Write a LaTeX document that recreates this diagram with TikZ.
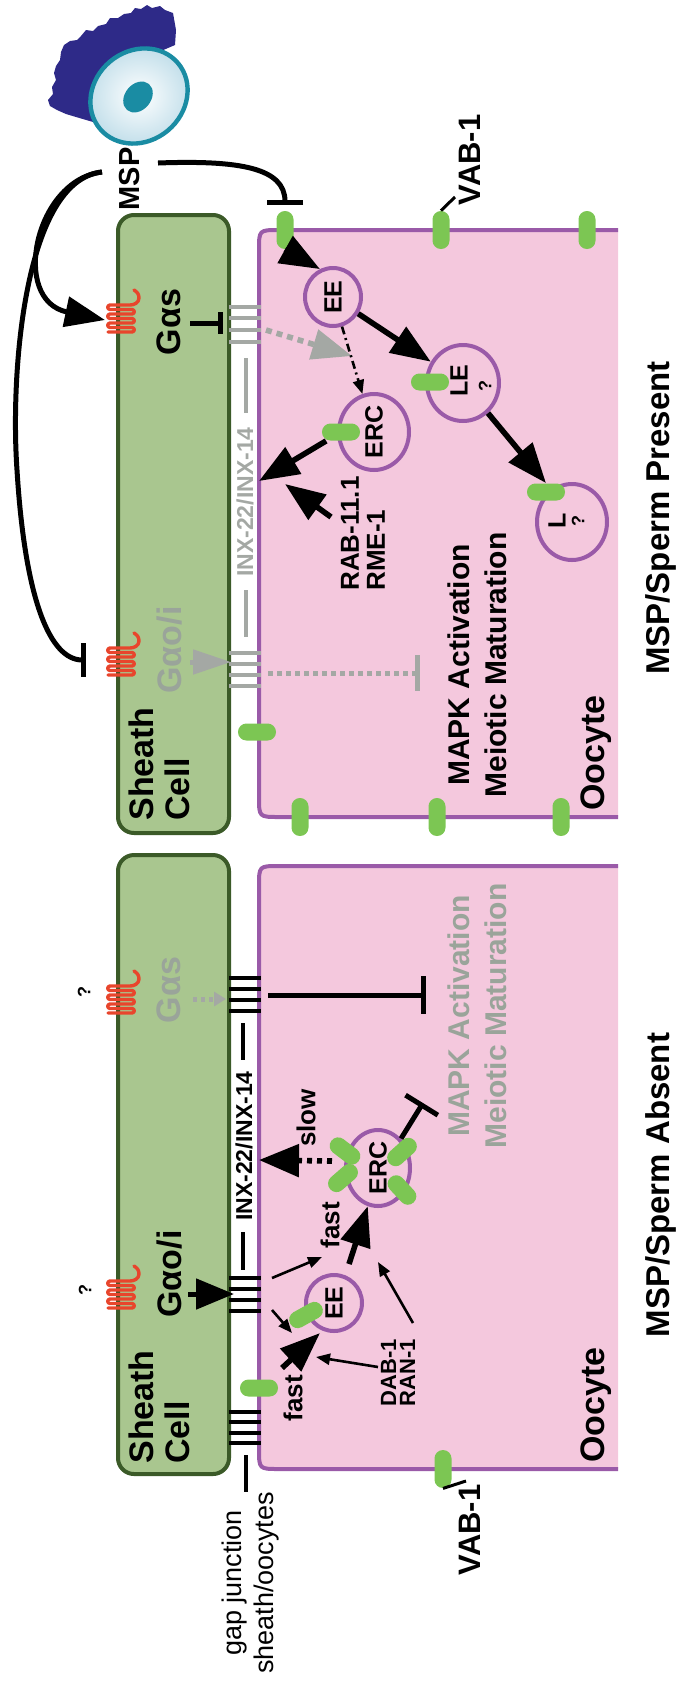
\documentclass[tikz,border=0pt]{standalone}
\usepackage{fontspec}
\setmainfont{Liberation Sans}
\usetikzlibrary{arrows.meta,shapes.geometric}

\definecolor{oopink}{HTML}{F4C8DD}
\definecolor{oopurple}{HTML}{9A5AA8}
\definecolor{shfill}{HTML}{A9C68F}
\definecolor{shedge}{HTML}{3B5A28}
\definecolor{capgreen}{HTML}{7CC653}
\definecolor{offgrey}{HTML}{A4A8A4}
\definecolor{txtgrey}{HTML}{9AA49A}
\definecolor{recred}{HTML}{E8452C}
\definecolor{spblue}{HTML}{2E2A88}
\definecolor{spteal}{HTML}{1A8CA3}
\definecolor{splight}{HTML}{BFDDE9}

\newcommand{\fsz}[2]{\fontsize{#1}{#2}\selectfont}

\tikzset{
  lbl/.style={rotate=90, inner sep=0pt, font=\bfseries},
  sheathbox/.style={fill=shfill, draw=shedge, line width=2pt, rounded corners=8pt},
  capsule/.style={fill=capgreen, rounded corners=4.2pt, minimum width=19pt, minimum height=8.5pt, inner sep=0pt},
  vcapsule/.style={capsule, minimum width=8.5pt, minimum height=19pt},
  vesicle/.style={ellipse, draw=oopurple, line width=2pt, fill=oopink, inner sep=0pt},
  bigarrow/.style={line width=2.8pt, -{Triangle[length=20pt,width=15pt]}},
  midarrow/.style={line width=2.5pt, -{Triangle[length=19pt,width=15pt]}},
  thinarrow/.style={line width=1.3pt, -{Triangle[length=7pt,width=5.5pt]}},
  blocker/.style={line width=2.5pt, -{Bar[width=#1]}},
  junction/.style={line width=2.2pt},
  oomembrane/.style={draw=oopurple, line width=2pt},
  receptor/.pic={
    \draw[recred, line width=1.7pt, line join=round, line cap=round]
      (-13,14) -- (11,14) to[out=0,in=0,looseness=1.7] (11,9.5)
      -- (-11,9.5) to[out=180,in=180,looseness=1.7] (-11,5)
      -- (11,5) to[out=0,in=0,looseness=1.7] (11,0.5)
      -- (-11,0.5) to[out=180,in=180,looseness=1.7] (-11,-4)
      -- (11,-4) to[out=0,in=0,looseness=1.7] (11,-8.5)
      -- (-11,-8.5) to[out=180,in=180,looseness=1.7] (-11,-13)
      -- (9,-13) to[out=0,in=-90] (18,-20) to[out=90,in=-30] (13,-28);
  }
}

\begin{document}
\begin{tikzpicture}[x=0.5pt,y=-0.5pt]
\useasboundingbox (0,0) rectangle (682,1688);

% ---------------- sperm ----------------
\fill[spblue] (173,13) -- (165,10) -- (160,6) -- (152,8) -- (147,5) -- (141,9) -- (135,8)
  -- (131,13) -- (124,14) -- (118,18) -- (110,18) -- (106,24) -- (98,26) -- (93,31)
  -- (86,30) -- (81,36) -- (77,40) -- (70,41) -- (64,45) -- (61,52) -- (60,60) -- (56,66)
  -- (54,73) -- (56,80) -- (52,87) -- (53,94) -- (48,100) -- (50,106) -- (57,110)
  -- (66,114) -- (76,117) -- (93,122) -- (110,120) -- (140,60) -- (175,45) -- (176,30) -- cycle;
\shade[inner color=white, outer color=splight, rotate around={40:(139,96)}]
  (139,96) ellipse [x radius=51, y radius=45];
\draw[spteal, line width=2.2pt, rotate around={40:(139,96)}]
  (139,96) ellipse [x radius=51, y radius=45];
\fill[spteal, rotate around={50:(138,97)}] (138,97) ellipse [x radius=17, y radius=13];

% ---------------- oocytes ----------------
\fill[oopink] (618,230) -- (279,230) .. controls (259,230) .. (259,250) -- (259,797)
  .. controls (259,817) .. (279,817) -- (618,817) -- cycle;
\draw[oomembrane] (618,230) -- (279,230) .. controls (259,230) .. (259,250) -- (259,797)
  .. controls (259,817) .. (279,817) -- (618,817);
\fill[oopink] (618,866) -- (279,866) .. controls (259,866) .. (259,886) -- (259,1449)
  .. controls (259,1469) .. (279,1469) -- (618,1469) -- cycle;
\draw[oomembrane] (618,866) -- (279,866) .. controls (259,866) .. (259,886) -- (259,1449)
  .. controls (259,1469) .. (279,1469) -- (618,1469);

% ---------------- sheath cells ----------------
\draw[sheathbox] (118,215) rectangle (229,833);
\draw[sheathbox] (118,855) rectangle (229,1474);

% ---------------- receptors on the sheath ----------------
\pic at (121,318) {receptor};
\pic at (121,661) {receptor};
\pic at (121,999) {receptor};
\pic at (121,1294) {receptor};

% ---------------- gap junctions ----------------
\foreach \yy in {307,318,330,342} \draw[junction, offgrey] (229,\yy) -- (261,\yy);
\foreach \yy in {653,664,675,686} \draw[junction, offgrey] (229,\yy) -- (261,\yy);
\foreach \yy in {978,989,1000,1011} \draw[junction] (229,\yy) -- (261,\yy);
\foreach \yy in {1278,1289,1300,1311} \draw[junction] (229,\yy) -- (261,\yy);
\foreach \yy in {1412,1422,1433,1443} \draw[junction] (229,\yy) -- (261,\yy);

% ---------------- vesicles ----------------
\node[vesicle, minimum width=28pt, minimum height=29pt] (ee1) at (333,297) {};
\node[vesicle, minimum width=35pt, minimum height=38pt] (erc1) at (374,432) {};
\node[vesicle, minimum width=36pt, minimum height=38pt] (le1) at (463,383) {};
\node[vesicle, minimum width=35pt, minimum height=38pt] (l1) at (572,522) {};
\node[vesicle, minimum width=28pt, minimum height=28pt] (ee2) at (334,1303) {};
\node[vesicle, minimum width=32pt, minimum height=38pt] (erc2) at (378,1168) {};

% ---------------- VAB-1 and cargo capsules ----------------
\node[vcapsule] (vt1) at (285,230) {};
\node[vcapsule] (vt2) at (441,230) {};
\node[vcapsule] (vt3) at (587,230) {};
\node[vcapsule] (vb1) at (300,817) {};
\node[vcapsule] (vb2) at (437,817) {};
\node[vcapsule] (vb3) at (561,817) {};
\node[vcapsule] (vb4) at (443,1469) {};
\node[capsule] (cb1) at (257,732) {};
\node[capsule] (cb2) at (259,1388) {};
\node[capsule] (ce1) at (341,432) {};
\node[capsule] (cl1) at (430,382) {};
\node[capsule] (cL) at (546,492) {};
\node[capsule, minimum width=18pt, rotate=29] (cee) at (306,1315) {};
\node[capsule, minimum width=17pt, rotate=-37] (cx1) at (345,1151) {};
\node[capsule, minimum width=17pt, rotate=41] (cx2) at (343,1178) {};
\node[capsule, minimum width=17pt, rotate=42] (cx3) at (402,1152) {};
\node[capsule, minimum width=17pt, rotate=-47] (cx4) at (402,1190) {};

% ---------------- text labels ----------------
\node[lbl, font=\bfseries\fsz{14.5}{15}] (msp) at (130,179) {MSP};
\node[lbl, font=\bfseries\fsz{15.5}{16}] (vab1) at (470,160) {VAB-1};
\node[lbl, font=\bfseries\fsz{15.5}{16}] (vab2) at (470,1530) {VAB-1};
\node[lbl, font=\bfseries\fsz{17}{18}, align=left, anchor=west] (sh1) at (159,821) {Sheath\\Cell};
\node[lbl, font=\bfseries\fsz{17}{18}, align=left, anchor=west] (sh2) at (159,1464) {Sheath\\Cell};
\node[lbl, font=\bfseries\fsz{17}{18}] (gas1) at (169,322) {Gαs};
\node[lbl, font=\bfseries\fsz{17}{18}, text=txtgrey] (gao1) at (170,650) {Gαo/i};
\node[lbl, font=\bfseries\fsz{17}{18}, text=txtgrey] (gas2) at (169,990) {Gαs};
\node[lbl, font=\bfseries\fsz{17}{18}] (gao2) at (170,1274) {Gαo/i};
\node[lbl, font=\bfseries\fsz{9}{9}] (q1) at (84,992) {?};
\node[lbl, font=\bfseries\fsz{9}{9}] (q2) at (85,1290) {?};
\node[lbl, font=\bfseries\fsz{11.5}{12}, text=offgrey] (inx1) at (245,502) {INX-22/INX-14};
\node[lbl, font=\bfseries\fsz{11.5}{12}] (inx2) at (244,1146) {INX-22/INX-14};
\node[lbl, font=\bfseries\fsz{12.5}{13}] at (ee1) {EE};
\node[lbl, font=\bfseries\fsz{12.5}{13}] at (erc1) {ERC};
\node[lbl, font=\bfseries\fsz{12.5}{13}] (letxt) at (459,381) {LE};
\node[lbl, font=\bfseries\fsz{9}{9}] (leq) at (485,386) {?};
\node[lbl, font=\bfseries\fsz{12.5}{13}] (ltxt) at (557,521) {L};
\node[lbl, font=\bfseries\fsz{9}{9}] (lq) at (578,521) {?};
\node[lbl, font=\bfseries\fsz{12.5}{13}] at (ee2) {EE};
\node[lbl, font=\bfseries\fsz{12.5}{13}] at (erc2) {ERC};
\node[lbl, font=\bfseries\fsz{13}{13}, align=left, anchor=west] (rab) at (363,591) {RAB-11.1\\RME-1};
\node[lbl, font=\bfseries\fsz{15}{18.5}, align=center] (mapk1) at (477,665) {MAPK Activation\\Meiotic Maturation};
\node[lbl, font=\bfseries\fsz{15}{18.5}, align=center, text=txtgrey] (mapk2) at (477,1016) {MAPK Activation\\Meiotic Maturation};
\node[lbl, font=\bfseries\fsz{17}{18}, anchor=west] (ooc1) at (596,811) {Oocyte};
\node[lbl, font=\bfseries\fsz{17}{18}, anchor=west] (ooc2) at (596,1463) {Oocyte};
\node[lbl, font=\bfseries\fsz{16.5}{17}] (title1) at (661,518) {MSP/Sperm Present};
\node[lbl, font=\bfseries\fsz{16.5}{17}] (title2) at (661,1185) {MSP/Sperm Absent};
\node[lbl, font=\bfseries\fsz{13}{13}] (slow) at (306,1118) {slow};
\node[lbl, font=\bfseries\fsz{13}{13}] (fast1) at (330,1225) {fast};
\node[lbl, font=\bfseries\fsz{13}{13}] (fast2) at (293,1398) {fast};
\node[lbl, font=\bfseries\fsz{11}{9.5}, align=left, anchor=west] (dab) at (398,1407) {DAB-1\\RAN-1};
\node[lbl, font=\fsz{13.5}{16}, align=center] (gjlbl) at (251,1583) {gap junction\\sheath/oocytes};

% ---------------- named end points ----------------
\coordinate (mspL) at (102,172);
\coordinate (mspR) at (158,163);
\coordinate (rec1) at (105,320);
\coordinate (rec2) at (86,660);
\coordinate (vt1bar) at (285,205);
\coordinate (gj1out) at (266,330);
\coordinate (gj1in) at (223,323);
\coordinate (gasT) at (190,323);
\coordinate (greytip) at (352,356);
\coordinate (rabtip) at (259,481);
\coordinate (rabfrom) at (331,517);
\coordinate (rabhit) at (285,484);
\coordinate (gaoG) at (190,662);
\coordinate (gj2in) at (231,662);
\coordinate (gj2out) at (268,673);
\coordinate (mapkbar1) at (420,673);
\coordinate (gasG) at (193,999);
\coordinate (gj3in) at (226,999);
\coordinate (gj3out) at (268,995);
\coordinate (mapkbar2) at (426,995);
\coordinate (gaoB) at (188,1294);
\coordinate (gj4in) at (234,1294);
\coordinate (gj4out) at (272,1278);
\coordinate (gj4low) at (272,1310);
\coordinate (fastmid) at (322,1257);
\coordinate (eetouch) at (292,1333);
\coordinate (fastlowfrom) at (282,1368);
\coordinate (fastlowtip) at (320,1333);
\coordinate (fastupfrom) at (349,1264);
\coordinate (slowfrom) at (332,1161);
\coordinate (slowtip) at (259,1160);
\coordinate (ercbar) at (423,1103);
\coordinate (dabup) at (413,1323);
\coordinate (dabuptip) at (378,1262);
\coordinate (dablow) at (378,1367);
\coordinate (dablowtip) at (316,1357);
\coordinate (vabtick1) at (455,197);
\coordinate (vabtick2) at (466,1481);
\coordinate (gjlinetop) at (246,1455);
\coordinate (gjlinebot) at (246,1492);

% ---------------- MSP signalling ----------------
\draw[line width=2.5pt, -{Triangle[length=20pt,width=15pt]}]
  (mspL) .. controls (35,180) and (10,300) .. (rec1);
\draw[blocker=17pt] (mspL) .. controls (25,180) and (10,370) .. (17,470)
  .. controls (25,600) and (50,660) .. (rec2);
\draw[blocker=18pt] (mspR) .. controls (240,160) and (285,168) .. (vt1bar);

% ---------------- MSP/Sperm present ----------------
\draw[blocker=11pt] (gasT) -- (gj1in);
\draw[offgrey, line width=2.8pt, dash pattern=on 3pt off 2.5pt, -{Triangle[length=20pt,width=15pt]}]
  (gj1out) -- (greytip);
\draw[bigarrow] (vt1.south) -- (ee1.115);
\draw[bigarrow] (ee1) -- (le1);
\draw[bigarrow] (le1) -- (cL.north);
\draw[thinarrow, dash pattern=on 4pt off 2pt on 1pt off 2pt] (ee1) -- (erc1);
\draw[bigarrow] (ce1) -- (rabtip);
\draw[bigarrow] (rabfrom) -- (rabhit);
\draw[offgrey, line width=2.5pt, -{Triangle[length=19pt,width=12pt]}] (gaoG) -- (gj2in);
\draw[offgrey, line width=2.5pt, dash pattern=on 2.5pt off 2pt, -{Bar[width=18pt]}] (gj2out) -- (mapkbar1);
\draw[line width=1.5pt] (vt2.north) -- (vabtick1);
\draw[offgrey, line width=2pt] (246,358) -- (246,413);
\draw[offgrey, line width=2pt] (246,590) -- (246,637);

% ---------------- MSP/Sperm absent ----------------
\draw[offgrey, line width=2.5pt, dash pattern=on 2pt off 2pt, -{Triangle[length=6pt,width=7pt]}]
  (gasG) -- (gj3in);
\draw[blocker=19pt] (gj3out) -- (mapkbar2);
\draw[midarrow] (gaoB) -- (gj4in);
\draw[thinarrow] (gj4out) -- (fastmid);
\draw[thinarrow] (gj4low) -- (eetouch);
\draw[bigarrow] (fastlowfrom) -- (fastlowtip);
\draw[bigarrow] (fastupfrom) -- (erc2.255);
\draw[line width=2.8pt, dash pattern=on 2.5pt off 2.5pt, -{Triangle[length=20pt,width=16pt]}]
  (slowfrom) -- (slowtip);
\draw[blocker=19pt] (erc2.52) -- (ercbar);
\draw[thinarrow] (dabup) -- (dabuptip);
\draw[thinarrow] (dablow) -- (dablowtip);
\draw[line width=1.5pt] (vb4.south) -- (vabtick2);
\draw[line width=2pt] (243,1023) -- (243,1060);
\draw[line width=2pt] (243,1232) -- (243,1270);
\draw[line width=2pt] (gjlinetop) -- (gjlinebot);

\end{tikzpicture}
\end{document}
